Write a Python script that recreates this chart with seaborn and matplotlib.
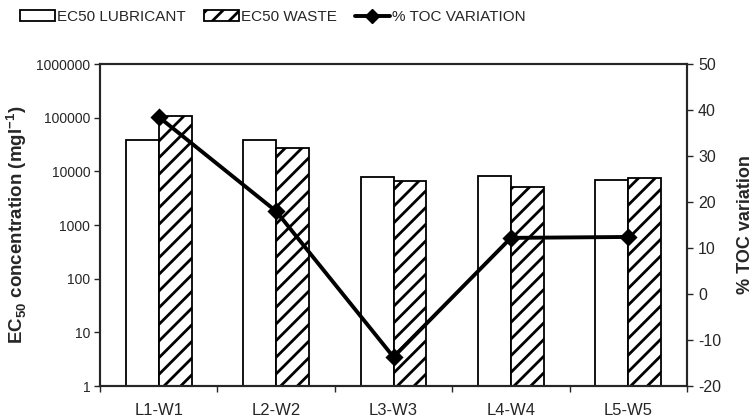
import numpy as np
import pandas as pd
import matplotlib
matplotlib.use("Agg")
import matplotlib.pyplot as plt
from matplotlib.patches import Patch
from matplotlib.lines import Line2D
from matplotlib.ticker import FixedLocator, FuncFormatter, NullLocator
import seaborn as sns

# values
pairs = ["L1-W1", "L2-W2", "L3-W3", "L4-W4", "L5-W5"]
ec50_lubricant = [38000, 38000, 7800, 8100, 6900]
ec50_waste = [107000, 27000, 6600, 5100, 7400]
toc_variation = [38.5, 18.0, -13.7, 12.2, 12.4]

sns.set_style("ticks")
plt.rcParams['font.family'] = ['Liberation Sans', 'DejaVu Sans']
plt.rcParams['mathtext.fontset'] = 'custom'
plt.rcParams['mathtext.rm'] = 'Liberation Sans'
plt.rcParams['mathtext.bf'] = 'Liberation Sans:bold'
plt.rcParams['hatch.linewidth'] = 2.0
plt.rcParams['axes.linewidth'] = 1.5
plt.rcParams['axes.unicode_minus'] = False

df = pd.DataFrame({
    "pair": pairs * 2,
    "ec50": ec50_lubricant + ec50_waste,
    "type": ["EC50 LUBRICANT"] * len(pairs) + ["EC50 WASTE"] * len(pairs),
})
toc = pd.DataFrame({"pair": pairs, "toc": toc_variation})

fig = plt.figure(figsize=(7.55, 4.18), dpi=100)
ax = fig.add_axes([100 / 755, 1 - 386 / 418, 587 / 755, 322 / 418])

sns.barplot(data=df, x="pair", y="ec50", hue="type", order=pairs,
            palette=["white", "white"], edgecolor="black", linewidth=1.3,
            width=0.56, gap=0, ax=ax, legend=False)
for bar in ax.containers[1]:
    bar.set_hatch("//")

ax.set_yscale("log")
ax.set_ylim(1, 1e6)
ax.yaxis.set_major_locator(FixedLocator([10 ** k for k in range(7)]))
ax.yaxis.set_major_formatter(FuncFormatter(lambda v, p: f"{v:.0f}"))
ax.yaxis.set_minor_locator(NullLocator())

ax2 = ax.twinx()
sns.pointplot(data=toc, x="pair", y="toc", order=pairs, color="black",
              markers="D", markersize=7.5, linewidth=2.8, ax=ax2)
ax2.set_ylim(-20, 50)
ax2.set_yticks(range(-20, 51, 10))
ax2.set_xlim(-0.5, len(pairs) - 0.5)
ax.set_xlim(-0.5, len(pairs) - 0.5)

# x ticks at category boundaries, labels at centres
ax.set_xticks(np.arange(len(pairs) + 1) - 0.5)
ax.set_xticklabels([])
ax.set_xticks(np.arange(len(pairs)), minor=True)
ax.set_xticklabels(pairs, minor=True)
ax.tick_params(axis="x", which="minor", length=0, pad=12, labelsize=12)
ax.tick_params(axis="x", which="major", length=4, width=1)
ax.tick_params(axis="y", length=4, width=1, labelsize=10, pad=3)
ax2.tick_params(axis="y", length=4, width=1, labelsize=11.5, pad=4)

ax.set_xlabel("")
ax2.set_xlabel("")
ax.set_ylabel(r"EC$_{\mathbf{50}}$ concentration (mgl$^{\mathbf{-1}}$)",
              fontsize=13.5, fontweight="bold", labelpad=5)
ax2.set_ylabel("% TOC variation", fontsize=13, fontweight="bold", labelpad=11)

for a in (ax, ax2):
    for s in a.spines.values():
        s.set_visible(True)
        s.set_linewidth(1.5)

handles = [
    Patch(facecolor="white", edgecolor="black", linewidth=1.3),
    Patch(facecolor="white", edgecolor="black", linewidth=1.3, hatch="//"),
    Line2D([], [], color="black", linewidth=2.8, marker="D", markersize=7.5),
]
labels = ["EC50 LUBRICANT", "EC50 WASTE", "% TOC VARIATION"]
fig.legend(handles, labels, loc="upper left",
           bbox_to_anchor=(20 / 755, 1 - 10 / 418),
           ncol=3, frameon=False, fontsize=11, handlelength=2.3,
           handleheight=0.75, handletextpad=0.15, columnspacing=1.15,
           borderpad=0, borderaxespad=0)

fig.savefig("out.png", dpi=100)
